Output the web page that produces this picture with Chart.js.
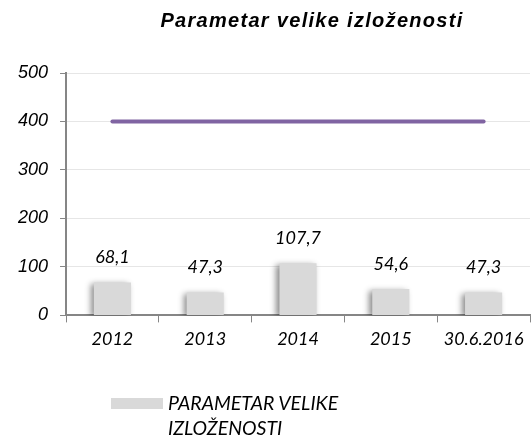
<!DOCTYPE html>
<html>
<head>
<meta charset="utf-8">
<script src="https://cdn.jsdelivr.net/npm/chart.js@4.4.0/dist/chart.umd.min.js"></script>
<style>
  html, body { margin: 0; padding: 0; background: #fff; }
  #wrap { position: relative; width: 531px; height: 438px; }
  #title { position: absolute; left: 0; width: 624px; top: 9px; text-align: center; font-family: "Liberation Sans", Arial, sans-serif; font-weight: bold; font-style: italic; font-size: 20px; letter-spacing: 1.3px; color: #000; }
  #legend { position: absolute; left: 111px; top: 390px; font-family: Lato, "Open Sans", sans-serif; font-style: italic; font-size: 19.5px; color: #000; line-height: 25px; }
  #legend .box { position: absolute; left: 0; top: 8px; width: 52px; height: 11px; background: #d9d9d9; }
  #legend .txt { margin-left: 57px; width: 210px; }
</style>
</head>
<body>
<div id="wrap">
  <canvas id="chart" width="531" height="438"></canvas>
  <div id="title">Parametar velike izloženosti</div>
  <div id="legend"><div class="box"></div><div class="txt">PARAMETAR VELIKE IZLOŽENOSTI</div></div>
</div>
<script>
const labels = ['2012', '2013', '2014', '2015', '30.6.2016'];
const exposure = [68.1, 47.3, 107.7, 54.6, 47.3];
const limit = [400, 400, 400, 400, 400];
const yTicks = [0, 100, 200, 300, 400, 500];

const fmt = v => v.toFixed(1).replace('.', ',');
const BAR = 1;

// soft shadow behind the bars, like the excel 3d look
const barShadow = {
  id: 'barShadow',
  beforeDatasetDraw(chart, args) {
    if (args.index !== BAR) return;
    const ctx = chart.ctx;
    ctx.save();
    ctx.shadowColor = 'rgba(0,0,0,0.45)';
    ctx.shadowBlur = 6;
    ctx.shadowOffsetX = -3;
    ctx.shadowOffsetY = 2;
  },
  afterDatasetDraw(chart, args) {
    if (args.index !== BAR) return;
    chart.ctx.restore();
  }
};

// value labels above bars
const valueLabels = {
  id: 'valueLabels',
  afterDatasetsDraw(chart) {
    const ctx = chart.ctx;
    const meta = chart.getDatasetMeta(BAR);
    ctx.save();
    ctx.font = 'italic 18px Lato, sans-serif';
    ctx.fillStyle = '#000';
    ctx.textAlign = 'center';
    ctx.textBaseline = 'middle';
    meta.data.forEach((bar, i) => {
      ctx.fillText(fmt(exposure[i]), bar.x, bar.y - 25);
    });
    ctx.restore();
  }
};

function draw() {
  new Chart(document.getElementById('chart'), {
    data: {
      labels: labels,
      datasets: [
        {
          type: 'line',
          label: 'limit',
          data: limit,
          borderColor: '#8064a2',
          borderWidth: 4,
          borderCapStyle: 'round',
          pointRadius: 0,
          order: 0
        },
        {
          type: 'bar',
          label: 'PARAMETAR VELIKE IZLOŽENOSTI',
          data: exposure,
          backgroundColor: '#d9d9d9',
          barPercentage: 0.4,
          categoryPercentage: 1,
          order: 1
        }
      ]
    },
    options: {
      responsive: false,
      animation: false,
      layout: { padding: { left: 6, right: 1, top: 73, bottom: 82 } },
      plugins: {
        legend: { display: false },
        tooltip: { enabled: false }
      },
      scales: {
        x: {
          offset: true,
          grid: { display: true, drawOnChartArea: false, offset: true, tickLength: 7, color: '#868686', lineWidth: 1 },
          border: { color: '#868686', width: 2 },
          ticks: { color: '#000', font: { family: 'Lato', size: 18, style: 'italic' }, padding: 6 }
        },
        y: {
          min: 0,
          max: 500,
          afterBuildTicks: axis => { axis.ticks = yTicks.map(v => ({ value: v })); },
          grid: { color: '#e6e6e6', tickLength: 6, tickColor: '#868686' },
          border: { color: '#868686', width: 2 },
          ticks: { color: '#000', font: { family: '"Liberation Sans"', size: 18, style: 'italic' }, padding: 12 }
        }
      }
    },
    plugins: [barShadow, valueLabels]
  });
}

Promise.all([
  document.fonts.load('italic 16px "Liberation Sans"'),
  document.fonts.load('italic 16px Lato')
]).then(draw, draw);
</script>
</body>
</html>
